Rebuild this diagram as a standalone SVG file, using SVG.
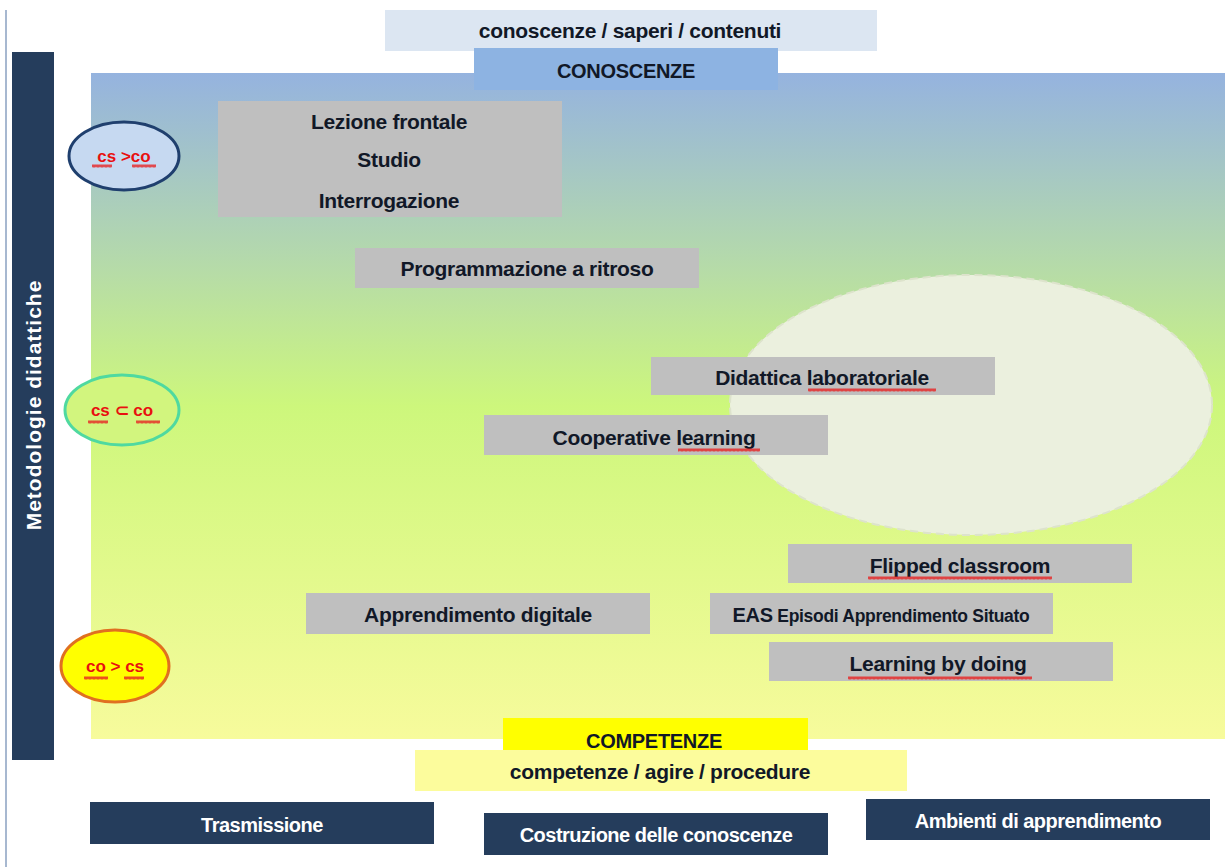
<svg xmlns="http://www.w3.org/2000/svg" width="1225" height="867" viewBox="0 0 1225 867">
<defs>
<linearGradient id="bg" x1="0" y1="0" x2="0" y2="1">
<stop offset="0" stop-color="#95b3df"/>
<stop offset="0.27" stop-color="#b3d8ad"/>
<stop offset="0.5" stop-color="#cdf77c"/>
<stop offset="1" stop-color="#f7fb9c"/>
</linearGradient>
<pattern id="wave" x="0" y="0" width="4" height="4" patternUnits="userSpaceOnUse">
<path d="M0,3.5 L1,0.5 L2,3.5 L3,0.5 L4,3.5" fill="none" stroke="#e82020" stroke-width="0.9"/>
</pattern>
<style>
.g{fill:#bfbfbf}
.t{font-family:"Liberation Sans",Arial,sans-serif;font-weight:bold;font-size:21px;fill:#111827;text-anchor:middle;letter-spacing:-0.3px}
.w{font-family:"Liberation Sans",Arial,sans-serif;font-weight:bold;font-size:20px;fill:#fff;text-anchor:middle;letter-spacing:-0.5px}
.d{fill:#253d5c}
.r{font-family:"Liberation Sans",Arial,sans-serif;font-weight:bold;font-size:17px;fill:#e81010;text-anchor:middle}
.u{fill:url(#wave)}
</style>
</defs>
<rect width="1225" height="867" fill="#fff"/>
<line x1="6" y1="10" x2="6" y2="867" stroke="#8aa0c0" stroke-width="1.5"/>
<rect x="91" y="73" width="1134" height="666" fill="url(#bg)"/>
<g id="metodologie">
<rect class="d" x="12" y="52" width="42" height="708"/>
<text class="w" transform="translate(41,405) rotate(-90)" style="font-size:21px;letter-spacing:1px">Metodologie didattiche</text>
</g>
<g id="saperi">
<rect x="385" y="10" width="492" height="41" fill="#dce6f2"/>
<text class="t" x="630" y="38">conoscenze / saperi / contenuti</text>
</g>
<g id="conoscenze">
<rect x="474" y="48" width="304" height="42" fill="#8db3e2"/>
<text class="t" x="626" y="78" style="font-size:20px">CONOSCENZE</text>
</g>
<g id="ellipse-area">
<ellipse cx="971" cy="405" rx="241" ry="130" fill="#ebf0de" stroke="#dde3cc" stroke-width="2" stroke-dasharray="8,5"/>
</g>
<g id="lezione">
<rect class="g" x="218" y="101" width="344" height="116"/>
<text class="t" x="389" y="129">Lezione frontale</text>
<text class="t" x="389" y="167">Studio</text>
<text class="t" x="389" y="208">Interrogazione</text>
</g>
<g id="programmazione">
<rect class="g" x="355" y="248" width="344" height="40"/>
<text class="t" x="527" y="276">Programmazione a ritroso</text>
</g>
<g id="didattica">
<rect class="g" x="651" y="357" width="344" height="38"/>
<text class="t" x="822" y="385">Didattica laboratoriale</text>
<rect class="u" x="808" y="388" width="128" height="4"/>
</g>
<g id="cooperative">
<rect class="g" x="484" y="415" width="344" height="40"/>
<text class="t" x="654" y="445">Cooperative learning</text>
<rect class="u" x="678" y="448" width="82" height="4"/>
</g>
<g id="flipped">
<rect class="g" x="788" y="544" width="344" height="39"/>
<text class="t" x="960" y="573">Flipped classroom</text>
<rect class="u" x="868" y="576" width="184" height="4"/>
</g>
<g id="digitale">
<rect class="g" x="306" y="593" width="344" height="41"/>
<text class="t" x="478" y="622">Apprendimento digitale</text>
</g>
<g id="eas">
<rect class="g" x="710" y="593" width="343" height="41"/>
<text class="t" x="881" y="622" style="font-size:17.5px;letter-spacing:-0.3px"><tspan style="font-size:20px">EAS</tspan> Episodi Apprendimento  Situato</text>
</g>
<g id="learning">
<rect class="g" x="769" y="642" width="344" height="39"/>
<text class="t" x="938" y="671">Learning by doing</text>
<rect class="u" x="848" y="676" width="184" height="4"/>
</g>
<g id="cs-gt-co">
<ellipse cx="124" cy="156" rx="55" ry="34" fill="#c6d9f1" stroke="#1f3f6e" stroke-width="3"/>
<text class="r" x="124" y="162">cs &gt;co</text>
<rect class="u" x="92" y="164" width="20" height="4"/>
<rect class="u" x="132" y="164" width="24" height="4"/>
</g>
<g id="cs-sub-co">
<ellipse cx="122" cy="410" rx="57" ry="35" fill="#d2f57e" stroke="#4fd9a0" stroke-width="3"/>
<text class="r" x="122" y="416">cs ⊂ co</text>
<rect class="u" x="88" y="420" width="20" height="4"/>
<rect class="u" x="136" y="420" width="24" height="4"/>
</g>
<g id="co-gt-cs">
<ellipse cx="115" cy="666" rx="54" ry="36" fill="#ffff00" stroke="#e07020" stroke-width="3"/>
<text class="r" x="115" y="672">co &gt; cs</text>
<rect class="u" x="84" y="676" width="24" height="4"/>
<rect class="u" x="124" y="676" width="20" height="4"/>
</g>
<g id="competenze">
<rect x="503" y="718" width="305" height="41" fill="#ffff00"/>
<text class="t" x="654" y="748" style="font-size:20px">COMPETENZE</text>
</g>
<g id="agire">
<rect x="415" y="750" width="492" height="41" fill="#fcfc9c"/>
<text class="t" x="660" y="779">competenze / agire / procedure</text>
</g>
<g id="trasmissione">
<rect class="d" x="90" y="802" width="344" height="42"/>
<text class="w" x="262" y="832">Trasmissione</text>
</g>
<g id="costruzione">
<rect class="d" x="484" y="813" width="344" height="42"/>
<text class="w" x="656" y="842">Costruzione delle conoscenze</text>
</g>
<g id="ambienti">
<rect class="d" x="866" y="799" width="344" height="41"/>
<text class="w" x="1038" y="828">Ambienti di apprendimento</text>
</g>
<g id="connectors"/>
</svg>
